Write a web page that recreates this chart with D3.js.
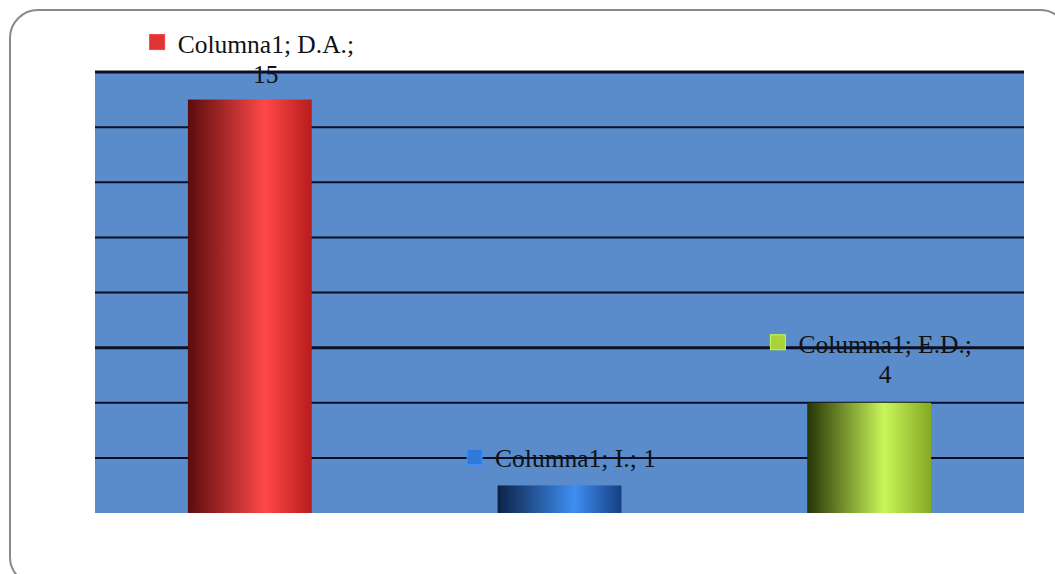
<!DOCTYPE html>
<html>
<head>
<meta charset="utf-8">
<script src="https://cdn.jsdelivr.net/npm/d3@7"></script>
<style>
  body { margin: 0; background: #fff; overflow: hidden; }
  text { font-family: "Liberation Serif", "DejaVu Serif", serif; }
</style>
</head>
<body>
<div class="canvas"></div>
<script>
const series = 'Columna1';
const categories = ['D.A.', 'I.', 'E.D.'];
const values = [15, 1, 4];
const yTicks = [0, 2, 4, 6, 8, 10, 12, 14, 16];

const svgDims = { width: 1055, height: 574 };
const margin = { top: 72, right: 31, bottom: 61, left: 95 };
const graphWidth = svgDims.width - margin.left - margin.right;
const graphHeight = svgDims.height - margin.top - margin.bottom;

const palette = [
    ['#5a0c0c', '#ff4848', '#b81c1c'],
    ['#0c2246', '#3f8ef2', '#163f82'],
    ['#263404', '#c9f65a', '#86a824']
];
const keyColours = ['#e03434', '#2f7ad8', '#a8d43a'];

const svg = d3.select('.canvas')
    .append('svg')
    .style('display', 'block')
    .attr('width', svgDims.width)
    .attr('height', svgDims.height);

const defs = svg.append('defs');
palette.forEach((p, i) => {
    const g = defs.append('linearGradient')
        .attr('id', `bar${i}`)
        .attr('x1', 0).attr('x2', 1).attr('y1', 0).attr('y2', 0);
    g.append('stop').attr('offset', '0%').attr('stop-color', p[0]);
    g.append('stop').attr('offset', '62%').attr('stop-color', p[1]);
    g.append('stop').attr('offset', '100%').attr('stop-color', p[2]);
});

// outer frame, runs off the right and bottom edges
svg.append('rect')
    .attr('x', 10).attr('y', 10)
    .attr('width', 1058).attr('height', 575)
    .attr('rx', 28).attr('ry', 28)
    .attr('fill', '#fff')
    .attr('stroke', '#8a8a8a')
    .attr('stroke-width', 2);

const graph = svg.append('g')
    .attr('transform', `translate(${margin.left}, ${margin.top})`);

const x = d3.scaleBand()
    .domain(categories)
    .range([0, graphWidth])
    .paddingInner(0.6)
    .paddingOuter(0.3);

const y = d3.scaleLinear()
    .domain([0, 16])
    .range([graphHeight, 0]);

// plot background
graph.append('rect')
    .attr('width', graphWidth)
    .attr('height', graphHeight)
    .attr('fill', '#5a8bca');

// gridlines
graph.selectAll('line.grid')
    .data(yTicks.filter(d => d > 0))
    .enter()
    .append('line')
        .attr('class', 'grid')
        .attr('x1', 0)
        .attr('x2', graphWidth)
        .attr('y1', d => y(d))
        .attr('y2', d => y(d))
        .attr('stroke', '#0b0f26')
        .attr('stroke-width', d => (d === 16 || d === 6) ? 3 : 2);

// bars
graph.selectAll('rect.bar')
    .data(values)
    .enter()
    .append('rect')
        .attr('class', 'bar')
        .attr('x', (d, i) => x(categories[i]))
        .attr('y', d => y(d))
        .attr('width', x.bandwidth())
        .attr('height', d => graphHeight - y(d))
        .attr('fill', (d, i) => `url(#bar${i})`);

// data labels (baseline offset from bar top)
const labels = [
    { i: 0, dy: -47, twoLine: true },
    { i: 1, dy: -18, twoLine: false },
    { i: 2, dy: -50, twoLine: true }
];

labels.forEach(l => {
    const cx = x(categories[l.i]) + x.bandwidth() / 2 + 16;
    const base = y(values[l.i]) + l.dy;
    const g = graph.append('g');
    const line1 = l.twoLine
        ? `${series}; ${categories[l.i]};`
        : `${series}; ${categories[l.i]}; ${values[l.i]}`;
    const t = g.append('text')
        .attr('font-size', 25.5)
        .attr('fill', '#111')
        .attr('text-anchor', 'middle');
    t.append('tspan')
        .attr('x', cx)
        .attr('y', base)
        .text(line1);
    if (l.twoLine) {
        t.append('tspan')
            .attr('x', cx)
            .attr('dy', 30)
            .text(values[l.i]);
    }
    const w = t.select('tspan').node().getComputedTextLength();
    g.append('rect')
        .attr('x', cx - w / 2 - 28)
        .attr('y', base - 18)
        .attr('width', 15)
        .attr('height', 15)
        .attr('fill', keyColours[l.i])
        .attr('stroke', d3.color(keyColours[l.i]).brighter(0.5))
        .attr('stroke-width', 1);
});
</script>
</body>
</html>
